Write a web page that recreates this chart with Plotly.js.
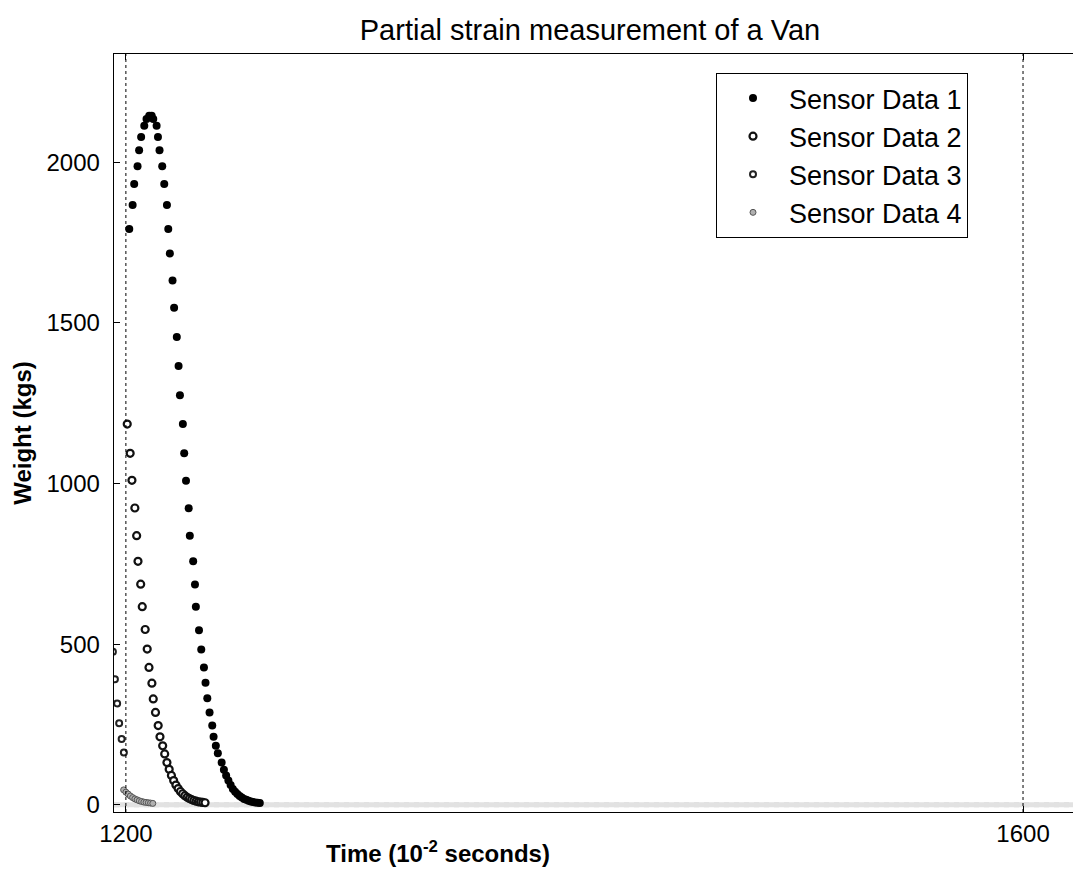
<!DOCTYPE html>
<html>
<head>
<meta charset="utf-8">
<script src="https://cdn.plot.ly/plotly-3.0.1.min.js"></script>
<style>
  html, body { margin: 0; padding: 0; background: #fff; overflow: hidden; }
  #chart { width: 1090px; height: 888px; }
</style>
</head>
<body>
<div id="chart"></div>
<script>
// ---- Data ----
const sensor1Time = [1201.5, 1203.0, 1203.7, 1205.2, 1205.9, 1206.8, 1208.2, 1209.2, 1210.4, 1211.5,
  1212.2, 1213.7, 1214.3, 1215.0, 1216.2, 1217.1, 1218.3, 1218.9, 1219.6, 1220.8,
  1221.5, 1222.7, 1223.5, 1224.1, 1225.4, 1226.0, 1226.8, 1228.0, 1228.5, 1230.0,
  1230.8, 1231.2, 1232.6, 1233.6, 1234.8, 1235.5, 1236.3, 1237.3, 1238.5, 1239.1,
  1240.1, 1241.0, 1242.7, 1243.7, 1244.7, 1245.7, 1246.7, 1247.7, 1248.7, 1249.7,
  1250.7, 1251.7, 1252.7, 1253.7, 1254.7, 1255.7, 1256.7, 1257.7, 1258.7, 1259.7];
const sensor1Weight = [1792, 1867, 1932, 1987, 2037, 2078, 2113, 2134, 2144, 2144,
  2134, 2113, 2078, 2037, 1987, 1932, 1867, 1792, 1716, 1632,
  1547, 1456, 1366, 1275, 1185, 1094, 1009, 923, 838, 758,
  686, 617, 544, 484, 428, 380, 332, 288, 247, 212,
  184, 161, 132, 110, 92, 76, 62, 50, 41, 34,
  28, 23, 19, 16, 13, 11, 9, 8, 7, 6];

const sensor2Time = [1200.6, 1201.9, 1202.7, 1204.0, 1204.8, 1205.4, 1206.6, 1207.3, 1208.6, 1209.5,
  1210.3, 1211.6, 1212.2, 1213.2, 1214.4, 1215.2, 1216.4, 1217.3, 1218.3, 1219.3,
  1220.3, 1221.3, 1222.3, 1223.3, 1224.3, 1225.3, 1226.3, 1227.3, 1228.3, 1229.3,
  1230.3, 1231.3, 1232.3, 1233.3, 1234.3, 1235.3];
const sensor2Weight = [1185, 1094, 1010, 924, 838, 758, 687, 617, 546, 485,
  428, 379, 330, 288, 247, 212, 184, 159, 132, 111,
  92, 76, 62, 51, 42, 35, 29, 24, 20, 17,
  14, 12, 10, 9, 8, 7];

const sensor3Time = [1194.2, 1195.1, 1196.1, 1197.0, 1198.1, 1199.1];
const sensor3Weight = [477, 391, 316, 254, 205, 163];

const sensor4Time = [1199.0, 1200.0, 1201.0, 1202.0, 1203.0, 1204.0, 1205.0, 1206.0, 1207.0,
  1208.0, 1209.0, 1210.0, 1211.0, 1212.0];
const sensor4Weight = [47, 40, 34, 28, 23, 19, 16, 13, 11, 9, 8, 7, 6, 5];

// near-zero readings forming the grey band along the bottom
const baselineTime = [1194.7, 1625.4];
const baselineWeight = [1, 1];

const seriesNames = ['Sensor Data 1', 'Sensor Data 2', 'Sensor Data 3', 'Sensor Data 4'];
const xTickVals = [1200, 1600];
const yTickVals = [0, 500, 1000, 1500, 2000];
const cursorTimes = [1200, 1600];

const FONT = 'Liberation Sans, Arial, sans-serif';

const traces = [
  { x: baselineTime, y: baselineWeight, mode: 'lines', showlegend: false, hoverinfo: 'skip',
    line: { color: '#d2d2d2', width: 5, dash: 'dot' } },
  { x: baselineTime, y: baselineWeight, mode: 'lines', showlegend: false, hoverinfo: 'skip',
    line: { color: '#e2e2e2', width: 5 } },
  { x: sensor4Time, y: sensor4Weight, mode: 'markers', name: seriesNames[3], legendrank: 4, legendgroup: 'd',
    marker: { symbol: 'circle', size: 6, color: '#b0b0b0', line: { color: '#555', width: 1 } } },
  { x: sensor3Time, y: sensor3Weight, mode: 'markers', name: seriesNames[2], legendrank: 3, legendgroup: 'c',
    marker: { symbol: 'circle', size: 6, color: '#ffffff', line: { color: '#222', width: 2 } } },
  { x: sensor2Time, y: sensor2Weight, mode: 'markers', name: seriesNames[1], legendrank: 2, legendgroup: 'b',
    marker: { symbol: 'circle', size: 7, color: '#ffffff', line: { color: '#111', width: 2.2 } } },
  { x: sensor1Time, y: sensor1Weight, mode: 'markers', name: seriesNames[0], legendrank: 1, legendgroup: 'a',
    marker: { symbol: 'circle', size: 8, color: '#000000', line: { width: 0 } } }
];

const layout = {
  width: 1090, height: 888,
  margin: { l: 114, r: 10, t: 54, b: 76, pad: 0 },
  paper_bgcolor: '#fff', plot_bgcolor: '#fff',
  font: { family: FONT, color: '#000', size: 22 },
  title: { text: 'Partial strain measurement of a Van', font: { family: FONT, size: 29, color: '#000' },
    x: (590 - 114) / 966, xanchor: 'center', y: 0.966, yanchor: 'middle', xref: 'paper', yref: 'container' },
  xaxis: {
    range: [1194.7, 1625.4], tickvals: xTickVals, ticktext: xTickVals.map(String),
    ticks: 'inside', ticklen: 6, tickcolor: '#000', showgrid: false, zeroline: false,
    showline: true, linecolor: '#000', linewidth: 1.3, mirror: 'ticks',
    tickfont: { family: FONT, size: 24 }
  },
  yaxis: {
    range: [-21.8, 2336.4], tickvals: yTickVals, ticktext: yTickVals.map(String),
    ticks: 'inside', ticklen: 6, tickcolor: '#000', showgrid: false, zeroline: false,
    showline: true, linecolor: '#000', linewidth: 1.3, mirror: 'ticks',
    tickfont: { family: FONT, size: 24 }, ticklabelstandoff: 8,
    title: { text: '<b>Weight (kgs)</b>', font: { family: FONT, size: 24 }, standoff: 8 }
  },
  shapes: cursorTimes.map(t => ({
    type: 'line', xref: 'x', yref: 'paper', x0: t, x1: t, y0: 0, y1: 1,
    line: { color: '#000', width: 1, dash: 'dot' }
  })),
  annotations: [{
    text: '<b>Time (10<sup>-2</sup> seconds)</b>', xref: 'paper', yref: 'paper',
    x: (438 - 114) / 966, y: -0.03, xanchor: 'center', yanchor: 'top', showarrow: false,
    font: { family: FONT, size: 24, color: '#000' }
  }],
  legend: {
    x: (716 - 114) / 966, y: (812 - 73) / 758, xanchor: 'left', yanchor: 'top',
    bgcolor: '#fff', bordercolor: '#000', borderwidth: 1,
    font: { family: FONT, size: 27, color: '#000' },
    tracegroupgap: 6, itemwidth: 62, traceorder: 'normal'
  },
  showlegend: true
};

Plotly.newPlot('chart', traces, layout, { displayModeBar: false, staticPlot: true });
</script>
</body>
</html>
